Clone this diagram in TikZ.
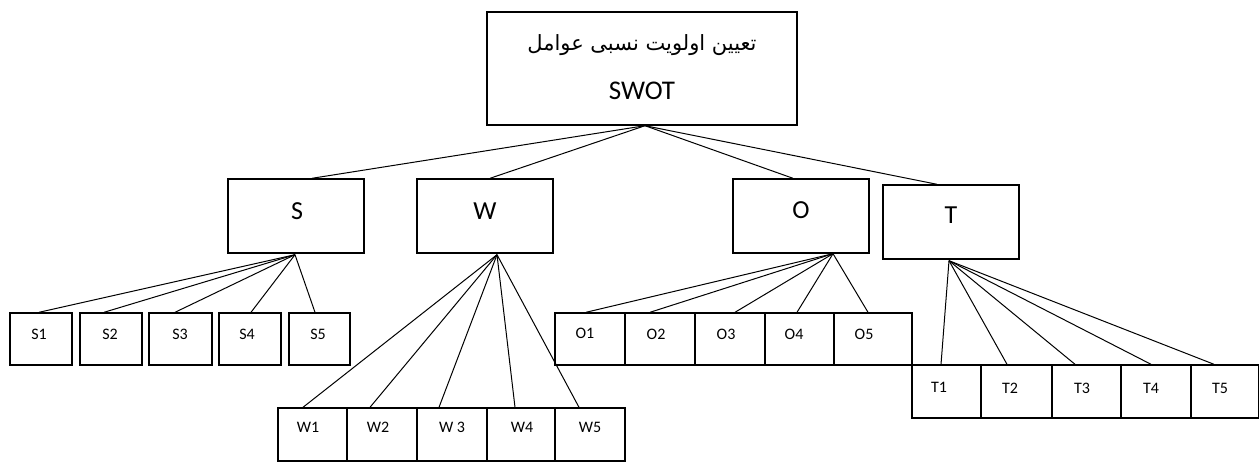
\documentclass[tikz,border=0pt]{standalone}
\usepackage{fontspec}
\setmainfont{Carlito}
\newfontfamily\arabicfont[Script=Arabic]{DejaVu Sans}
\TeXXeTstate=1
\begin{document}
\begin{tikzpicture}[x=1pt,y=-1pt,
  box/.style={draw=black, line width=1.4pt, inner sep=0pt, rectangle},
  big/.style={box, minimum width=136pt, minimum height=74pt},
  small/.style={box, minimum height=52pt},
  lbl/.style={inner sep=0pt, font=\fontsize{16}{18}\selectfont},
  biglbl/.style={inner sep=0pt, font=\fontsize{26}{30}\selectfont},
  conn/.style={draw=black, line width=1pt}]
\useasboundingbox (0,0) rectangle (1260,462);
% top
\node[box, minimum width=310pt, minimum height=113pt] (top) at (642,68.5) {};
\node[inner sep=0pt, font=\arabicfont\fontsize{21}{24}\selectfont] (ttl) at (642,45) {\beginR تعیین اولویت نسبی عوامل\endR};
\node[inner sep=0pt, font=\fontsize{27}{30}\selectfont] (swot) at (642,91) {SWOT};
% level 2
\node[big] (S) at (296,216) {};
\node[big] (W) at (485,216) {};
\node[big] (O) at (801,216) {};
\node[big] (T) at (951,222) {};
\node[biglbl] (Sl) at (297,211) {S};
\node[biglbl] (Wl) at (485,211) {W};
\node[biglbl] (Ol) at (801,210) {O};
\node[biglbl] (Tl) at (951,215) {T};
% S children
\node[small, minimum width=62pt] (S1) at (41,339) {};
\node[small, minimum width=62pt] (S2) at (111,339) {};
\node[small, minimum width=63pt] (S3) at (180.5,339) {};
\node[small, minimum width=62pt] (S4) at (250,339) {};
\node[small, minimum width=61pt] (S5) at (319.5,339) {};
\node[lbl] (S1l) at (39,334) {S1};
\node[lbl] (S2l) at (110,334) {S2};
\node[lbl] (S3l) at (180,334) {S3};
\node[lbl] (S4l) at (247,334) {S4};
\node[lbl] (S5l) at (318,334) {S5};
% W children
\node[small, minimum width=69pt, minimum height=53pt] (W1) at (312.5,434.5) {};
\node[small, minimum width=70pt, minimum height=53pt] (W2) at (382,434.5) {};
\node[small, minimum width=70pt, minimum height=53pt] (W3) at (452,434.5) {};
\node[small, minimum width=68pt, minimum height=53pt] (W4) at (521,434.5) {};
\node[small, minimum width=70pt, minimum height=53pt] (W5) at (590,434.5) {};
\node[lbl] (W1l) at (308,427) {W1};
\node[lbl] (W2l) at (378,427) {W2};
\node[lbl] (W3l) at (452,427) {W 3};
\node[lbl] (W4l) at (522,427) {W4};
\node[lbl] (W5l) at (590,427) {W5};
% O children
\node[small, minimum width=70pt] (O1) at (590,339) {};
\node[small, minimum width=70pt] (O2) at (660,339) {};
\node[small, minimum width=70pt] (O3) at (730,339) {};
\node[small, minimum width=69pt] (O4) at (799.5,339) {};
\node[small, minimum width=78pt] (O5) at (873,339) {};
\node[lbl] (O1l) at (585,333) {O1};
\node[lbl] (O2l) at (656,334) {O2};
\node[lbl] (O3l) at (726,334) {O3};
\node[lbl] (O4l) at (794,334) {O4};
\node[lbl] (O5l) at (864,334) {O5};
% T children
\node[small, minimum width=69pt, minimum height=53pt] (T1) at (946.5,391.5) {};
\node[small, minimum width=71pt, minimum height=53pt] (T2) at (1016.5,391.5) {};
\node[small, minimum width=69pt, minimum height=53pt] (T3) at (1086.5,391.5) {};
\node[small, minimum width=70pt, minimum height=53pt] (T4) at (1156,391.5) {};
\node[small, minimum width=67pt, minimum height=53pt] (T5) at (1225,391.5) {};
\node[lbl] (T1l) at (939,387) {T1};
\node[lbl] (T2l) at (1010,388) {T2};
\node[lbl] (T3l) at (1082,388) {T3};
\node[lbl] (T4l) at (1151,388) {T4};
\node[lbl] (T5l) at (1220,388) {T5};
% hubs
\coordinate (hTop) at ([xshift=3pt]top.south);
\coordinate (hS) at ([xshift=-1pt,yshift=-1pt]S.south);
\coordinate (hW) at ([xshift=12pt,yshift=-1pt]W.south);
\coordinate (hO) at ([xshift=32pt]O.south);
\coordinate (hT) at ([xshift=-2pt,yshift=-1pt]T.south);
% connectors
\draw[conn] (hTop) -- ([xshift=16pt]S.north);
\draw[conn] (hTop) -- ([xshift=5pt]W.north);
\draw[conn] (hTop) -- ([xshift=-8pt]O.north);
\draw[conn] (hTop) -- ([xshift=-14pt]T.north);
\draw[conn] (hS) -- ([xshift=-2pt]S1.north);
\draw[conn] (hS) -- ([xshift=-7pt]S2.north);
\draw[conn] (hS) -- ([xshift=-5.5pt]S3.north);
\draw[conn] (hS) -- ([xshift=1pt]S4.north);
\draw[conn] (hS) -- ([xshift=-4.5pt]S5.north);
\draw[conn] (hW) -- ([xshift=-9.5pt]W1.north);
\draw[conn] (hW) -- ([xshift=-12pt]W2.north);
\draw[conn] (hW) -- ([xshift=-13pt]W3.north);
\draw[conn] (hW) -- ([xshift=-6pt]W4.north);
\draw[conn] (hW) -- ([xshift=-11pt]W5.north);
\draw[conn] (hO) -- ([xshift=-4pt]O1.north);
\draw[conn] (hO) -- ([xshift=-10pt]O2.north);
\draw[conn] (hO) -- ([xshift=5pt]O3.north);
\draw[conn] (hO) -- ([xshift=-2.5pt]O4.north);
\draw[conn] (hO) -- ([xshift=-5pt]O5.north);
\draw[conn] (hT) -- ([xshift=-5.5pt]T1.north);
\draw[conn] (hT) -- ([xshift=-9.5pt]T2.north);
\draw[conn] (hT) -- ([xshift=-11.5pt]T3.north);
\draw[conn] (hT) -- ([xshift=-5pt]T4.north);
\draw[conn] (hT) -- ([xshift=-11pt]T5.north);
\end{tikzpicture}
\end{document}
